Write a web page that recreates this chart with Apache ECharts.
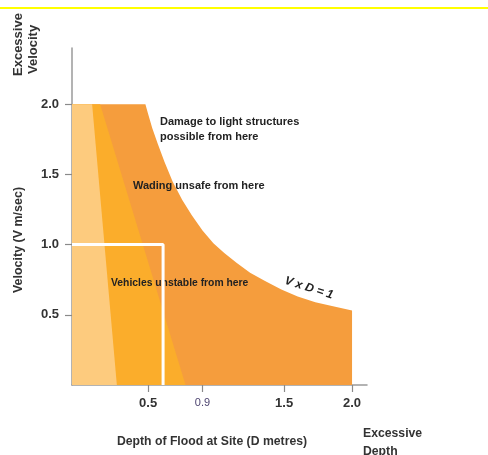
<!DOCTYPE html>
<html><head><meta charset="utf-8">
<script src="https://cdn.jsdelivr.net/npm/echarts@6/dist/echarts.min.js"></script>
<style>html,body{margin:0;padding:0;background:#fff}#c{width:488px;height:455px}</style>
</head><body><div id="c"></div>
<script>
const FONT = '"Liberation Sans Narrow","Arial Narrow","Liberation Sans",Arial,sans-serif';

// axis ticks
const xTicks = [0.5, 0.9, 1.5, 2.0];
const yTicks = [0.5, 1.0, 1.5, 2.0];

// Damage to light structures boundary (V x D = 1)
const damageD = [-0.06, 0.48, 0.50, 0.53, 0.57, 0.62, 0.68, 0.75, 0.82, 0.90, 0.98, 1.06, 1.15, 1.25, 1.36, 1.48, 1.60, 1.73, 1.86, 2.00];
const damageV = [2.00, 2.00, 1.93, 1.83, 1.72, 1.59, 1.45, 1.32, 1.21, 1.10, 1.01, 0.94, 0.87, 0.80, 0.74, 0.68, 0.63, 0.59, 0.56, 0.53];

// Wading unsafe boundary
const wadingD = [-0.06, 0.147, 0.775];
const wadingV = [2.0, 2.0, 0];

// Low hazard (light) region boundary
const lowD = [-0.06, 0.088, 0.27];
const lowV = [2.0, 2.0, 0];

// Vehicles unstable box
const vehicleD = [-0.06, 0.61, 0.61];
const vehicleV = [1.0, 1.0, 0];

const zip = (a, b) => a.map((v, i) => [v, b[i]]);

function area(name, d, v, color, z) {
  return {
    name, type: 'line', data: zip(d, v), z, silent: true,
    showSymbol: false, symbol: 'none',
    lineStyle: { width: 0 },
    areaStyle: { color, opacity: 1, origin: 'start' },
    animation: false
  };
}

const chart = echarts.init(document.getElementById('c'), null, { renderer: 'canvas' });
chart.setOption({
  animation: false,
  backgroundColor: '#fff',
  grid: { left: 72, right: 121, top: 48, bottom: 70, containLabel: false },
  xAxis: {
    type: 'value', min: -0.06, max: 2.11,
    axisLine: { show: true, onZero: false, lineStyle: { color: '#9a9a9a', width: 1.5 } },
    axisTick: { show: true, customValues: xTicks, length: 7, lineStyle: { color: '#8a8a8a', width: 1.2 } },
    splitLine: { show: false },
    axisLabel: {
      customValues: xTicks, margin: 12, fontFamily: FONT,
      formatter: v => Math.abs(v - 0.9) < 1e-9 ? '{t|0.9}' : '{b|' + v.toFixed(1) + '}',
      rich: {
        b: { fontFamily: FONT, fontSize: 13, fontWeight: 'bold', color: '#333' },
        t: { fontFamily: FONT, fontSize: 11, fontWeight: 'normal', color: '#4d4470' }
      }
    }
  },
  yAxis: {
    type: 'value', min: 0, max: 2.4,
    axisLine: { show: true, onZero: false, lineStyle: { color: '#9a9a9a', width: 1.5 } },
    axisTick: { show: true, customValues: yTicks, length: 7, lineStyle: { color: '#8a8a8a', width: 1.2 } },
    splitLine: { show: false },
    axisLabel: {
      customValues: yTicks, margin: 13, fontFamily: FONT, fontSize: 13, fontWeight: 'bold', color: '#333',
      formatter: v => v.toFixed(1)
    }
  },
  series: [
    area('Damage to light structures', damageD, damageV, '#f59d3d', 2),
    area('Wading unsafe', wadingD, wadingV, '#fbad2b', 3),
    area('Low hazard', lowD, lowV, '#fdcb7e', 4),
    {
      name: 'Vehicles unstable', type: 'line', data: zip(vehicleD, vehicleV), z: 10, silent: true,
      showSymbol: false, symbol: 'none', clip: false,
      lineStyle: { color: '#ffffff', width: 3 }, animation: false
    }
  ],
  graphic: { elements: [
    { type: 'rect', left: 0, top: 7, shape: { width: 488, height: 2 }, style: { fill: '#ffff00' }, z: 1 },
    { type: 'text', x: 18, y: 76, rotation: Math.PI / 2, z: 5,
      style: { text: 'Excessive', font: 'bold 13px ' + FONT, fill: '#333', textAlign: 'left', textVerticalAlign: 'middle' } },
    { type: 'text', x: 33, y: 74, rotation: Math.PI / 2, z: 5,
      style: { text: 'Velocity', font: 'bold 13px ' + FONT, fill: '#333', textAlign: 'left', textVerticalAlign: 'middle' } },
    { type: 'text', x: 18, y: 240, rotation: Math.PI / 2, scaleX: 0.96, z: 5,
      style: { text: 'Velocity (V m/sec)', font: 'bold 13px ' + FONT, fill: '#333', textAlign: 'center', textVerticalAlign: 'middle' } },
    { type: 'text', x: 212, y: 441, scaleX: 0.94, z: 5,
      style: { text: 'Depth of Flood at Site (D metres)', font: 'bold 13px ' + FONT, fill: '#333', textAlign: 'center', textVerticalAlign: 'middle' } },
    { type: 'text', x: 363, y: 433, scaleX: 0.94, z: 5,
      style: { text: 'Excessive', font: 'bold 13px ' + FONT, fill: '#333', textAlign: 'left', textVerticalAlign: 'middle' } },
    { type: 'text', x: 363, y: 451, scaleX: 0.94, z: 5,
      style: { text: 'Depth', font: 'bold 13px ' + FONT, fill: '#333', textAlign: 'left', textVerticalAlign: 'middle' } },
    { type: 'text', x: 160, y: 122, z: 5,
      style: { text: 'Damage to light structures', font: 'bold 11px ' + FONT, fill: '#222', textAlign: 'left', textVerticalAlign: 'middle' } },
    { type: 'text', x: 160, y: 137, z: 5,
      style: { text: 'possible from here', font: 'bold 11px ' + FONT, fill: '#222', textAlign: 'left', textVerticalAlign: 'middle' } },
    { type: 'text', x: 133, y: 186, z: 5,
      style: { text: 'Wading unsafe from here', font: 'bold 11px ' + FONT, fill: '#222', textAlign: 'left', textVerticalAlign: 'middle' } },
    { type: 'text', x: 111, y: 283, scaleX: 0.94, z: 5,
      style: { text: 'Vehicles unstable from here', font: 'bold 11px ' + FONT, fill: '#222', textAlign: 'left', textVerticalAlign: 'middle' } },
    { type: 'text', x: 309, y: 288, rotation: -0.31, z: 5,
      style: { text: 'V x D = 1', font: 'italic bold 12px ' + FONT, fill: '#222', textAlign: 'center', textVerticalAlign: 'middle' } }
  ] }
});
</script>
</body></html>
